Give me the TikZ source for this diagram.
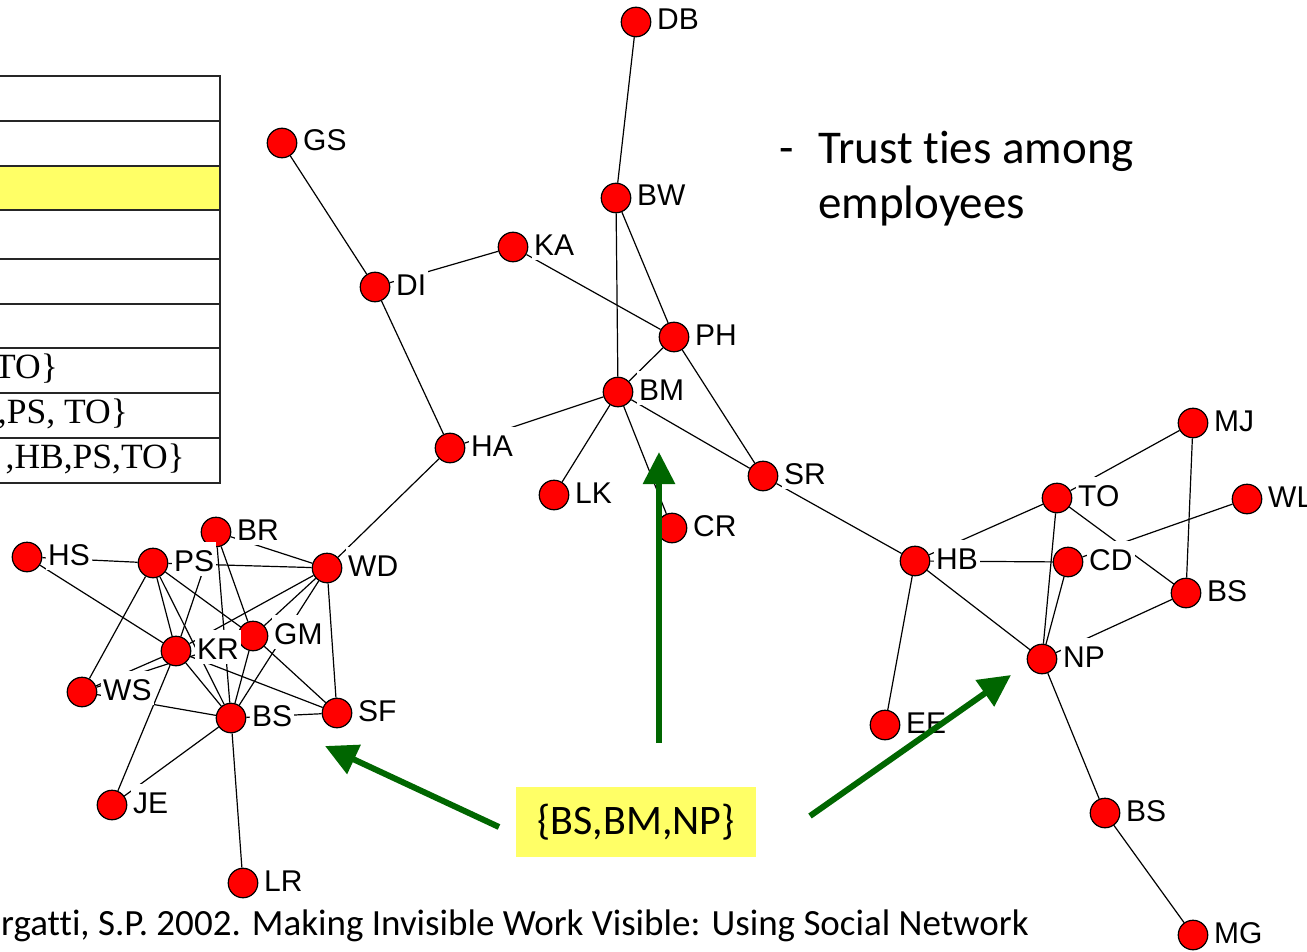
\documentclass[tikz,border=0pt]{standalone}
\usepackage{fontspec}
\newfontfamily\labfont{Liberation Sans}
\newfontfamily\calfont[Ligatures=NoCommon]{Carlito}
\newfontfamily\serfont{Liberation Serif}
\usetikzlibrary{arrows.meta}
\definecolor{nodered}{RGB}{255,0,0}
\definecolor{hiyellow}{RGB}{255,255,102}
\definecolor{arrowgreen}{RGB}{0,102,0}
\pgfdeclarelayer{edges}
\pgfdeclarelayer{tags}
\pgfdeclarelayer{top}
\pgfsetlayers{edges,main,tags,top}

% name / x / y / printed label
\def\actorlist{DB/636/22/DB, BW/616/198/BW, KA/513/247/KA, GS/282/143/GS,
  DI/375/287/DI, PH/674/337/PH, BM/618/392/BM, HA/450/448/HA, LK/554/495/LK,
  CR/672/528/CR, SR/763/476/SR, HB/915/561/HB, TO/1057/498/TO, CD/1068/562/CD,
  MJ/1193/423/MJ, WL/1247/499/WL, BSR/1186/593/BS, NP/1042/659/NP, EE/885/725/EE,
  BSB/1105/813/BS, MG/1193/935/MG, HS/27/557/HS, PS/153/563/PS, BR/216/532/BR,
  WD/327/568/WD, KR/176/651/KR, GM/253/636/GM, WS/82/692/WS, BSL/231/718/BS,
  SF/337/713/SF, JE/112/805/JE, LR/243/883/LR}

\begin{document}
\begin{tikzpicture}[x=1pt,y=-1pt,
  actor/.style={circle, draw=black, fill=nodered, line width=1.2pt, minimum size=29.5pt, inner sep=0pt},
  tag/.style={anchor=base west, fill=white, inner xsep=2pt, inner ysep=0pt,
    text height=29pt, text depth=5pt, font=\labfont\fontsize{30}{36}\selectfont},
  tie/.style={line width=1.2pt, black},
  rule/.style={line width=2pt, black!85},
  cell/.style={anchor=base east, inner sep=0pt, font=\serfont\fontsize{35.5}{42}\selectfont},
  slide/.style={anchor=base west, inner sep=0pt, font=\calfont\fontsize{47}{56}\selectfont},
  note/.style={anchor=base west, inner sep=0pt, font=\calfont\fontsize{37}{44}\selectfont},
  pointer/.style={line width=6pt, arrowgreen, -{Triangle[length=32pt,width=31pt]}},
]
\useasboundingbox (0,0) rectangle (1307,952);
\clip (0,0) rectangle (1307,952);

% table fragment on the left
\fill[hiyellow] (-5,165.7) rectangle (220,210);
\foreach \ry in {75.7,121,165.7,210,259,304.3,348.3,393.3,438.3,483.3}
  \draw[rule] (-5,\ry) -- (221,\ry);
\draw[rule] (220,75.7) -- (220,483.3);
\node[cell] (rowA) at (58,378) {TO\}};
\node[cell] (rowB) at (128,423) {,PS, TO\}};
\node[cell] (rowC) at (185,468) {,HB,PS,TO\}};

% actors
\foreach \n/\x/\y/\t in \actorlist
  \node[actor] (\n) at (\x,\y) {};

% ties
\begin{pgfonlayer}{edges}
\foreach \a/\b in {DB/BW, BW/BM, BW/PH, GS/DI, DI/KA, KA/PH, DI/HA, HA/BM, HA/WD,
  PH/BM, PH/SR, BM/LK, BM/CR, BM/SR, SR/HB,
  HB/TO, HB/CD, HB/NP, HB/EE, TO/MJ, TO/NP, TO/BSR, CD/NP, CD/WL, MJ/BSR, BSR/NP,
  NP/BSB, BSB/MG,
  HS/PS, HS/KR, PS/WS, PS/KR, PS/BSL, PS/GM, PS/WD, BR/KR, BR/BSL, BR/GM, BR/WD,
  WD/KR, WD/GM, WD/BSL, WD/SF, KR/WS, WS/GM, WS/BSL, KR/BSL, KR/JE, KR/SF,
  GM/BSL, GM/SF, BSL/SF, BSL/JE, BSL/LR}
  \draw[tie] (\a) -- (\b);
\end{pgfonlayer}

% actor labels
\begin{pgfonlayer}{tags}
\foreach \n/\x/\y/\t in \actorlist
  \node[tag] (\n-tag) at (\x+19,\y+8) {\t};
\end{pgfonlayer}

% slide text
\node[slide] (dash) at (779,164) {-};
\node[slide] (title1) at (818,164) {Trust ties among};
\node[slide] (title2) at (818,219) {employees};
\node[note] (cite) at (1,935) {rgatti, S.P. 2002. Making Invisible Work Visible: Using Social Network};

% highlighted set and pointers
\node[fill=hiyellow, minimum width=240pt, minimum height=70pt, inner sep=0pt,
  font=\calfont\fontsize{42}{50}\selectfont] (focus) at (636,822) {\{BS,BM,NP\}};
\coordinate (upTail) at (659,743);
\coordinate (upHead) at (659,452);
\coordinate (leftTail) at (499,827);
\coordinate (leftHead) at (325,746);
\coordinate (rightTail) at (810,816);
\coordinate (rightHead) at (1011,675);
\begin{pgfonlayer}{top}
\draw[pointer] (upTail) -- (upHead);
\draw[pointer] (leftTail) -- (leftHead);
\draw[pointer] (rightTail) -- (rightHead);
\end{pgfonlayer}
\end{tikzpicture}
\end{document}
